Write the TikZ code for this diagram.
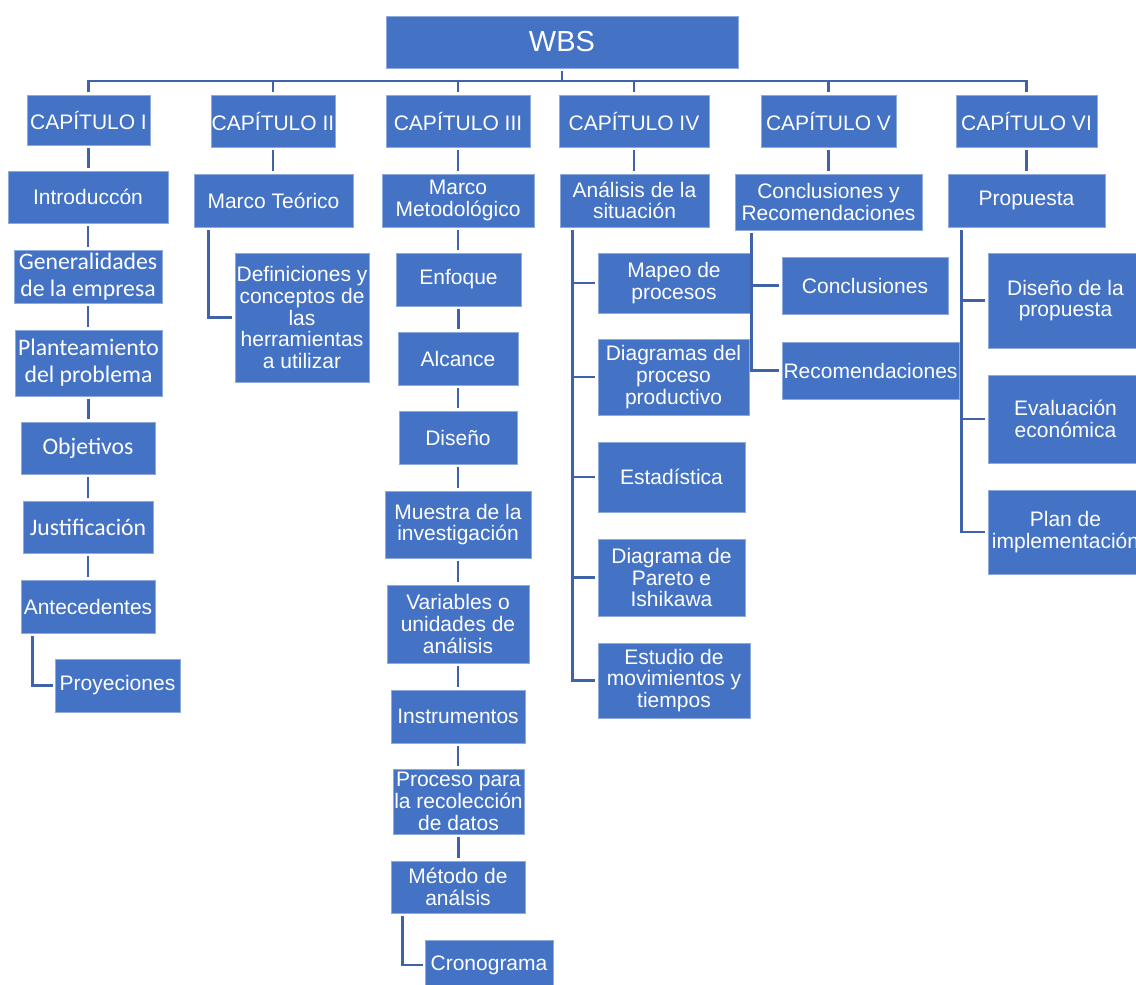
\documentclass[tikz,border=0pt]{standalone}
\usepackage{fontspec}
\setmainfont{Liberation Sans}
\newfontfamily\calfont{Carlito}
\definecolor{boxfill}{HTML}{4472C4}
\definecolor{boxedge}{HTML}{8EA9DB}
\definecolor{linec}{HTML}{3E63AA}
\tikzset{
  box/.style={rectangle, fill=boxfill, draw=boxedge, line width=0.8pt, text=white,
    inner sep=0pt, align=center, font=\fontsize{21}{21.7}\selectfont},
  cal/.style={font=\calfont\fontsize{23.7}{26.7}\selectfont},
  big/.style={font=\fontsize{29}{30}\selectfont},
  conn/.style={draw=linec, line width=2.8pt, shorten <=3pt, shorten >=3pt},
  branch/.style={conn, shorten <=0pt},
}
\newcommand{\bx}[7][]{\node[box,#1,minimum width={#5-#3},minimum height={#6-#4}] (#2) at ({(#3+#5)/2},{(#4+#6)/2}) {#7};}
\begin{document}
\begin{tikzpicture}[x=1pt,y=-1pt]
\useasboundingbox (0,0) rectangle (1136,985);
% top
\bx[big]{wbs}{386}{16}{738}{68}{WBS}
\bx{c1}{27}{95}{150}{145}{CAPÍTULO I}
\bx{c2}{211}{95}{335}{147}{CAPÍTULO II}
\bx{c3}{386}{95}{530}{147}{CAPÍTULO III}
\bx{c4}{559}{95}{709}{147}{CAPÍTULO IV}
\bx{c5}{761}{95}{896}{147}{CAPÍTULO V}
\bx{c6}{956}{95}{1097}{147}{CAPÍTULO VI}
% level 2
\bx{intro}{8}{171}{168}{223}{Introduccón}
\bx{mt}{194}{174}{353}{227}{Marco Teórico}
\bx{mm}{382}{174}{534}{227}{Marco\\Metodológico}
\bx{an}{560}{174}{709}{227}{Análisis de la\\situación}
\bx{cr}{735}{174}{922}{230}{Conclusiones y\\Recomendaciones}
\bx{pr}{948}{174}{1105}{227}{Propuesta}
% column I
\bx[cal]{gen}{14}{250}{162}{303}{Generalidades\\de la empresa}
\bx[cal]{plan}{15}{330}{162}{396}{Planteamiento\\del problema}
\bx[cal]{obj}{21}{422}{155}{474}{Objetivos}
\bx[cal]{just}{23}{501}{153}{553}{Justificación}
\bx{ante}{21}{580}{155}{633}{Antecedentes}
\bx{proy}{55}{659}{180}{712}{Proyeciones}
% column II
\bx{def}{235}{253}{369}{382}{Definiciones y\\conceptos de\\las\\herramientas\\a utilizar}
% column III
\bx{enf}{396}{253}{521}{306}{Enfoque}
\bx{alc}{398}{332}{518}{385}{Alcance}
\bx{dis}{399}{411}{517}{464}{Diseño}
\bx{mue}{385}{491}{531}{558}{Muestra de la\\investigación}
\bx{var}{387}{585}{529}{663}{Variables o\\unidades de\\análisis}
\bx{ins}{391}{690}{525}{743}{Instrumentos}
\bx{proc}{393}{769}{524}{834}{Proceso para\\la recolección\\de datos}
\bx{met}{391}{861}{525}{913}{Método de\\análsis}
\bx{cro}{425}{940}{553}{990}{Cronograma}
% column IV
\bx{map}{598}{253}{750}{313}{Mapeo de\\procesos}
\bx{dia}{598}{339}{749}{415}{Diagramas del\\proceso\\productivo}
\bx{est}{598}{442}{745}{512}{Estadística}
\bx{par}{598}{539}{745}{616}{Diagrama de\\Pareto e\\Ishikawa}
\bx{estu}{598}{643}{750}{718}{Estudio de\\movimientos y\\tiempos}
% column V
\bx{con}{782}{257}{948}{314}{Conclusiones}
\bx{rec}{782}{342}{959}{399}{Recomendaciones}
% column VI
\bx{dp}{988}{253}{1143}{348}{Diseño de la\\propuesta}
\bx{ev}{988}{375}{1143}{463}{Evaluación\\económica}
\bx{pl}{988}{490}{1143}{574}{Plan de\\implementación}

% top connectors
\coordinate (bar) at (562,81);
\draw[conn, shorten >=0pt] (wbs.south) -- (wbs.south |- bar);
\draw[conn] (c1.north) -- (c1.north |- bar) -- (c6.north |- bar) -- (c6.north);
\foreach \c in {c2,c3,c4,c5} \draw[branch] (\c.north |- bar) -- (\c.north);
% chapter to level 2
\draw[conn] (c1.south) -- (c1.south |- intro.north);
\draw[conn] (c2.south) -- (c2.south |- mt.north);
\draw[conn] (c3.south) -- (c3.south |- mm.north);
\draw[conn] (c4.south) -- (c4.south |- an.north);
\draw[conn] (c5.south) -- (c5.south |- cr.north);
\draw[conn] (c6.south) -- (c6.south |- pr.north);
% column I
\draw[conn] (intro.south) -- (intro.south |- gen.north);
\draw[conn] (gen.south) -- (gen.south |- plan.north);
\draw[conn] (plan.south) -- (plan.south |- obj.north);
\draw[conn] (obj.south) -- (obj.south |- just.north);
\draw[conn] (just.south) -- (just.south |- ante.north);
\draw[conn, shorten >=2pt] ([xshift=12pt]ante.south west) |- (proy.west);
% column II
\draw[conn] ([xshift=15pt]mt.south west) |- (def.west);
% column III
\draw[conn] (mm.south) -- (mm.south |- enf.north);
\draw[conn] (enf.south) -- (enf.south |- alc.north);
\draw[conn] (alc.south) -- (alc.south |- dis.north);
\draw[conn] (dis.south) -- (dis.south |- mue.north);
\draw[conn] (mue.south) -- (mue.south |- var.north);
\draw[conn] (var.south) -- (var.south |- ins.north);
\draw[conn] (ins.south) -- (ins.south |- proc.north);
\draw[conn] (proc.south) -- (proc.south |- met.north);
\draw[conn, shorten >=2pt] ([xshift=12pt]met.south west) |- (cro.west);
% column IV
\coordinate (v4) at ([xshift=13pt]an.south west);
\draw[conn] (v4) |- (estu.west);
\foreach \b in {map,dia,est,par} \draw[branch] (v4 |- \b.west) -- (\b.west);
% column V
\coordinate (v5) at ([xshift=17pt]cr.south west);
\draw[conn] (v5) |- (rec.west);
\draw[branch] (v5 |- con.west) -- (con.west);
% column VI
\coordinate (v6) at ([xshift=14pt]pr.south west);
\draw[conn] (v6) |- (pl.west);
\foreach \b in {dp,ev} \draw[branch] (v6 |- \b.west) -- (\b.west);
\end{tikzpicture}
\end{document}
